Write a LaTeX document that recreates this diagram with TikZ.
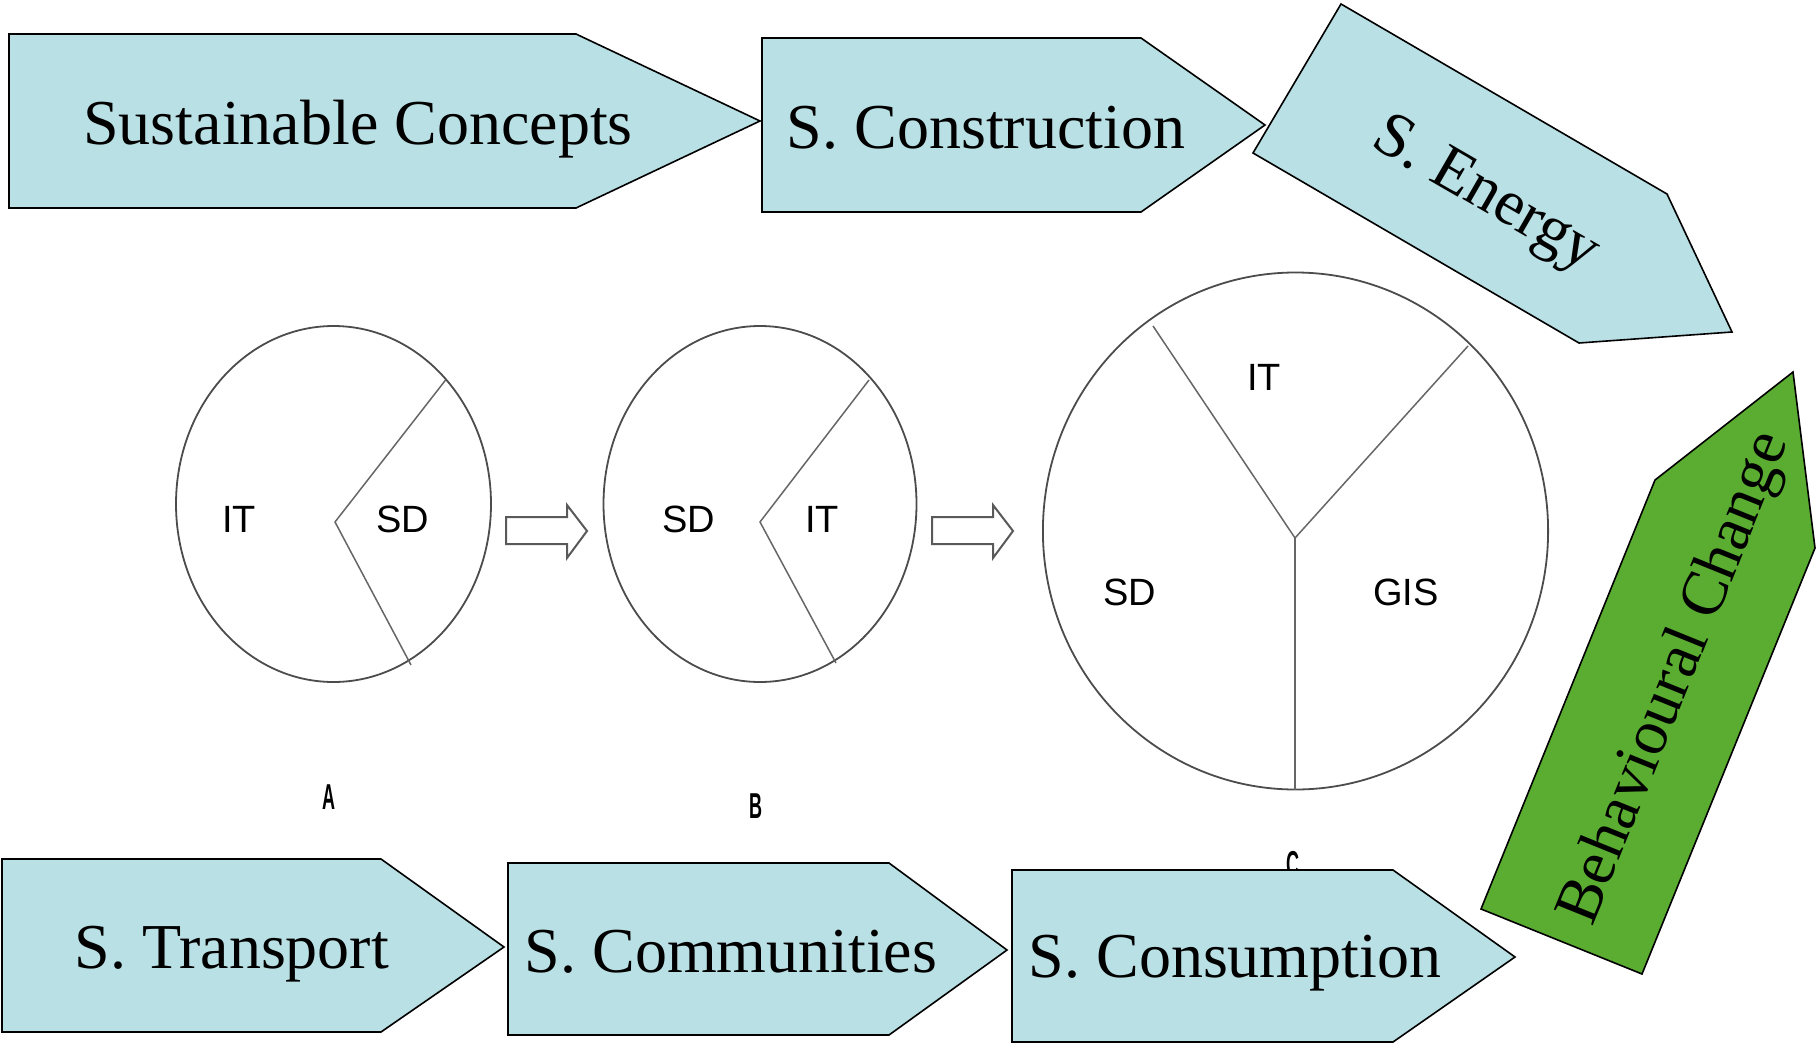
\documentclass[tikz,border=0pt]{standalone}
\usepackage{fontspec}
\setmainfont{Liberation Serif}
\newfontfamily\arialfont{Liberation Sans}
\usetikzlibrary{positioning}

\definecolor{boxblue}{RGB}{185,224,228}
\definecolor{boxgreen}{RGB}{91,173,50}

\begin{document}
\begin{tikzpicture}[x=1pt, y=-1pt,
                    box/.style={draw=black, fill=boxblue, line width=1.6pt},
                    greenbox/.style={box, fill=boxgreen},
                    boxtext/.style={font=\fontsize{64}{70}\selectfont, inner sep=0pt},
                    wheel/.style={draw=black!70, line width=1.8pt},
                    slice/.style={draw=black!60, line width=1.5pt},
                    part/.style={font=\arialfont\fontsize{38}{40}\selectfont, inner sep=0pt},
                    tag/.style={font=\arialfont\bfseries\fontsize{36}{38}\selectfont, inner sep=0pt},
                    hollow/.style={draw=black!65, fill=white, line width=2pt}]
    \useasboundingbox (0,0) rectangle (1820,1044);

    % circles A, B, C
    \draw[wheel] (333.5,504) ellipse [x radius=157.5, y radius=178];
    \draw[wheel] (760,504) ellipse [x radius=156.5, y radius=178];
    \draw[wheel] (1295.5,531) ellipse [x radius=252.6, y radius=258.5];

    \coordinate (hubA) at (335,522);
    \coordinate (hubB) at (760,522);
    \coordinate (hubC) at (1295,538);
    \draw[slice] (445.6,380) -- (hubA) -- (411,665);
    \draw[slice] (869,380) -- (hubB) -- (836,663);
    \draw[slice] (1153,326) -- (hubC) -- (1468,346);
    \draw[slice] (hubC) -- (1295,790);

    \node (itA) [part] at (239,519) {IT};
    \node (sdA) [part] at (403,519) {SD};
    \node (sdB) [part] at (689,519) {SD};
    \node (itB) [part] at (822,519) {IT};
    \node (itC) [part] at (1264,377) {IT};
    \node (sdC) [part] at (1130,592) {SD};
    \node (gisC) [part] at (1406,592) {GIS};

    \node (tagA) [tag] at (329,797) {\scalebox{0.5}[1]{A}};
    \node (tagB) [tag] at (756,806) {\scalebox{0.5}[1]{B}};
    \node (tagC) [tag] at (1293,864) {\scalebox{0.5}[1]{C}};

    % hollow arrows between the circles
    \foreach \x in {506,932}
        \draw[hollow] (\x,517) -- ++(61,0) -- ++(0,-12) -- ++(20,26)
                      -- ++(-20,27) -- ++(0,-14) -- ++(-61,0) -- cycle;

    % top row
    \draw[box] (9,34) -- (576,34) -- (760,121) -- (576,208) -- (9,208) -- cycle;
    \node (concepts) [boxtext, anchor=base] at (358,144) {Sustainable Concepts};

    \draw[box] (762,38) -- (1141,38) -- (1265,125) -- (1141,212) -- (762,212) -- cycle;
    \node (construction) [boxtext, anchor=base] at (986,148) {S. Construction};

    \draw[box] (1341,4) -- (1667,194) -- (1732,332) -- (1579,343) -- (1253,153) -- cycle;
    \node (energy) [boxtext, rotate=-30] at (1485,196) {S. Energy};

    % right side
    \draw[greenbox] (1655,480) -- (1793,372) -- (1815,548) -- (1642,974) -- (1481,909) -- cycle;
    \node (behaviour) [boxtext, rotate=68] at (1676,679) {Behavioural Change};

    % bottom row
    \draw[box] (2,859) -- (381,859) -- (504,947) -- (381,1032) -- (2,1032) -- cycle;
    \node (transport) [boxtext, anchor=base] at (232,968) {S. Transport};

    \draw[box] (508,863) -- (889,863) -- (1007,950) -- (889,1035) -- (508,1035) -- cycle;
    \node (communities) [boxtext, anchor=base] at (731,972) {S. Communities};

    \draw[box] (1012,870) -- (1393,870) -- (1515,957) -- (1393,1042) -- (1012,1042) -- cycle;
    \node (consumption) [boxtext, anchor=base] at (1235,977) {S. Consumption};
\end{tikzpicture}
\end{document}
